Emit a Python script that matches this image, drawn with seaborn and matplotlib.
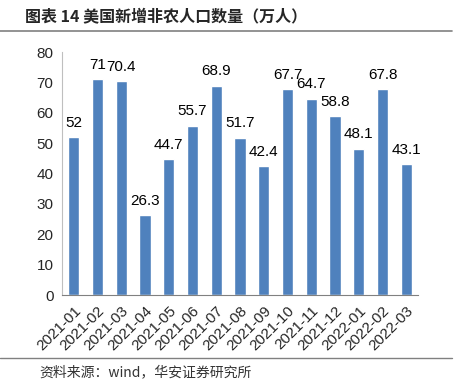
import matplotlib
matplotlib.use("Agg")
import matplotlib.pyplot as plt
import seaborn as sns
import pandas as pd
from matplotlib.lines import Line2D

months = ["2021-01", "2021-02", "2021-03", "2021-04", "2021-05", "2021-06", "2021-07",
          "2021-08", "2021-09", "2021-10", "2021-11", "2021-12", "2022-01", "2022-02", "2022-03"]
values = [52, 71, 70.4, 26.3, 44.7, 55.7, 68.9, 51.7, 42.4, 67.7, 64.7, 58.8, 48.1, 67.8, 43.1]
labels = ["52", "71", "70.4", "26.3", "44.7", "55.7", "68.9", "51.7", "42.4", "67.7",
          "64.7", "58.8", "48.1", "67.8", "43.1"]
yticks = [0, 10, 20, 30, 40, 50, 60, 70, 80]

sns.set_style("white")
plt.rcParams['font.family'] = ['Liberation Sans', 'Noto Sans CJK SC', 'DejaVu Sans']

df = pd.DataFrame({"month": months, "value": values})

fig = plt.figure(figsize=(4.58, 3.89), dpi=100)
ax = fig.add_axes([0.135, 0.2416, 0.778, 0.6244])
sns.barplot(data=df, x="month", y="value", color="#4F81BD", saturation=1, width=0.48, ax=ax)

for i, (v, t) in enumerate(zip(values, labels)):
    ax.text(i, v + 2.5, t, ha="center", va="bottom", fontsize=11, color="black")

ax.set_ylim(0, 80)
ax.set_xlim(-0.5, len(months) - 0.5)
ax.set_yticks(yticks)
ax.set_yticklabels([str(y) for y in yticks], fontsize=11)
ax.set_xticks(range(len(months)))
ax.set_xticklabels(months, rotation=45, ha="right", rotation_mode="anchor", fontsize=11)
ax.tick_params(axis="both", length=0, pad=6)
ax.set_xlabel("")
ax.set_ylabel("")
for s in ["top", "right"]:
    ax.spines[s].set_visible(False)
ax.spines["left"].set_color("#BFBFBF")
ax.spines["bottom"].set_color("#808080")

fig.text(0.055, 0.957, "图表 14 美国新增非农人口数量（万人）", fontsize=11.5, fontweight="bold",
         family=['Noto Sans CJK SC', 'DejaVu Sans'], va="center", ha="left")
fig.add_artist(Line2D([0.0, 0.987], [0.92, 0.92], color="#808080", lw=1.2))
fig.add_artist(Line2D([0.0, 0.987], [0.08, 0.08], color="#808080", lw=1.0))
fig.text(0.085, 0.043, "资料来源：wind，华安证券研究所", fontsize=10,
         family=['Noto Sans CJK SC', 'DejaVu Sans'], va="center", ha="left", color="#333333")

fig.savefig("out.png", dpi=100)
